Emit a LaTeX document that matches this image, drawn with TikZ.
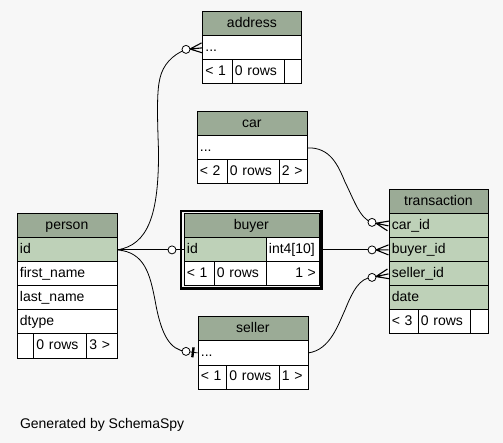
\documentclass[tikz,border=0pt]{standalone}
\usepackage{fontspec}
\setmainfont{Liberation Sans}
\usetikzlibrary{calc,fit}
\definecolor{hdrgreen}{HTML}{9BAB96}
\definecolor{keygreen}{HTML}{BED1B8}
\definecolor{pagegray}{HTML}{F7F7F7}
\tikzset{
    cell/.style={draw,line width=.8pt,anchor=north west,minimum height=24pt,inner sep=3pt,
        text height=10.5pt,text depth=3pt,font=\fontsize{14}{16}\selectfont},
    hdr/.style={cell,fill=hdrgreen,align=center},
    key/.style={cell,fill=keygreen,align=left},
    col/.style={cell,fill=white,align=left},
    rel/.style={line width=.8pt},
}
\begin{document}
\begin{tikzpicture}[x=1pt,y=-1pt]
    \fill[pagegray] (0,0) rectangle (503,443);
    \useasboundingbox (0,0) rectangle (503,443);
    % person
    \path (16.5,213.5) node[hdr,text width=94pt] (person) {person}
    (16.5,237.5) node[key,text width=94pt] (person-id) {id}
    foreach \y/\n/\t in {261.5/first/first\_name,285.5/last/last\_name,309.5/dtype/dtype} {(16.5,\y) node[col,text width=94pt] (person-\n) {\t}}
    foreach \x/\w/\n/\t in {16.5/10.5/f1/{},33/47/f2/0 rows,86/24.5/f3/3 >} {(\x,333.5) node[col,text width=\w pt] (person-\n) {\t}};
    % address
    \path (202,11.5) node[hdr,text width=93pt] (address) {address}
    (202,35.5) node[col,text width=93pt] (address-dots) {...}
    foreach \x/\w/\n/\t in {202/23.5/f1/< 1,231.5/46/f2/0 rows,283.5/11.5/f3/{}} {(\x,59.5) node[col,text width=\w pt] (address-\n) {\t}};
    % car
    \path (196.5,111.5) node[hdr,text width=104pt] (car) {car}
    (196.5,135.5) node[col,text width=104pt] (car-dots) {...}
    foreach \x/\w/\n/\t in {196.5/24/f1/< 2,226.5/46/f2/0 rows,278.5/22/f3/2 >} {(\x,159.5) node[col,text width=\w pt] (car-\n) {\t}};
    % buyer
    \path (183.5,213.5) node[hdr,text width=129pt] (buyer) {buyer}
    (183.5,237.5) node[key,text width=76pt] (buyer-id) {id}
    (265.5,237.5) node[col,text width=47pt] (buyer-type) {int4[10]}
    foreach \x/\w/\n/\t in {183.5/24/f1/< 1,213.5/46/f2/0 rows} {(\x,261.5) node[col,text width=\w pt] (buyer-\n) {\t}}
    (265.5,261.5) node[col,align=right,text width=47pt] (buyer-f3) {1 >};
    \node[fit=(buyer)(buyer-f3),draw,line width=2.7pt,inner sep=2.4pt] (buyer-frame) {};
    % seller
    \path (197.5,316.5) node[hdr,text width=104pt] (seller) {seller}
    (197.5,340.5) node[col,text width=104pt] (seller-dots) {...}
    foreach \x/\w/\n/\t in {197.5/22.5/f1/< 1,226/46.5/f2/0 rows,278.5/23/f3/1 >} {(\x,364.5) node[col,text width=\w pt] (seller-\n) {\t}};
    % transaction
    \path (388.5,189.5) node[hdr,text width=93pt] (transaction) {transaction}
    foreach \y/\n/\t in {213.5/car/car\_id,237.5/buyer/buyer\_id,261.5/seller/seller\_id,285.5/date/date} {(388.5,\y) node[key,text width=93pt] (transaction-\n) {\t}}
    foreach \x/\w/\n/\t in {388.5/23/f1/< 3,417.5/46/f2/0 rows,469.5/12/f3/{}} {(\x,309.5) node[col,text width=\w pt] (transaction-\n) {\t}};
    \node[anchor=base west,font=\fontsize{14}{16}\selectfont] (caption) at (16.5,428) {Generated by SchemaSpy};
    % relations
    \coordinate (o-addr) at ($(address-dots.west)+(-16,1.5)$);
    \coordinate (o-buyer) at ($(buyer-id.west)+(-11.5,0)$);
    \coordinate (o-seller) at ($(seller-dots.west)+(-11.5,-1.5)$);
    \coordinate (o-car) at ($(transaction-car.west)+(-16.5,-3.5)$);
    \coordinate (o-buyerid) at ($(transaction-buyer.west)+(-16.5,0)$);
    \coordinate (o-sellerid) at ($(transaction-seller.west)+(-16.5,3.5)$);
    \draw[rel] (person-id.east) .. controls (148,245) and (159,215) .. (158.5,150)
        .. controls (157,110) and (157,90) .. (160,78)
        .. controls (163,65) and (172,55) .. (o-addr);
    \draw[rel] (person-id.east) -- (buyer-id.west);
    \draw[rel] (person-id.east) .. controls (145,252) and (150,275) .. (155,300)
        .. controls (161,335) and (170,350) .. (o-seller) -- (seller-dots.west);
    \draw[rel] (car-dots.east) .. controls (330,147) and (338,165) .. (345,182)
        .. controls (354,200) and (360,219) .. (o-car);
    \draw[rel] (buyer-type.east) -- (o-buyerid);
    \draw[rel] (seller-dots.east) .. controls (330,350) and (338,325) .. (345,310)
        .. controls (353,290) and (360,278) .. (o-sellerid);
    % crow's feet
    \foreach \o/\t in {o-addr/address-dots.west,o-car/transaction-car.west,o-buyerid/transaction-buyer.west,o-sellerid/transaction-seller.west}
        \draw[line width=1.1pt] ($(\o)!4pt!(\t)$) -- (\t) ($(\o)!4pt!(\t)$) -- ($(\t)!5pt!90:(\o)$) ($(\o)!4pt!(\t)$) -- ($(\t)!5pt!-90:(\o)$);
    % tee on seller
    \coordinate (tee) at ($(o-seller)!7pt!(seller-dots.west)$);
    \draw[line width=2.4pt] ($(tee)!5pt!90:(seller-dots.west)$) -- ($(tee)!5pt!-90:(seller-dots.west)$);
    \foreach \o in {o-addr,o-buyer,o-seller,o-car,o-buyerid,o-sellerid}
        \draw[rel,fill=white] (\o) circle (4pt);
    \fill ($(person-id.east)+(4.5,0)$) circle (1.4pt);
\end{tikzpicture}
\end{document}
